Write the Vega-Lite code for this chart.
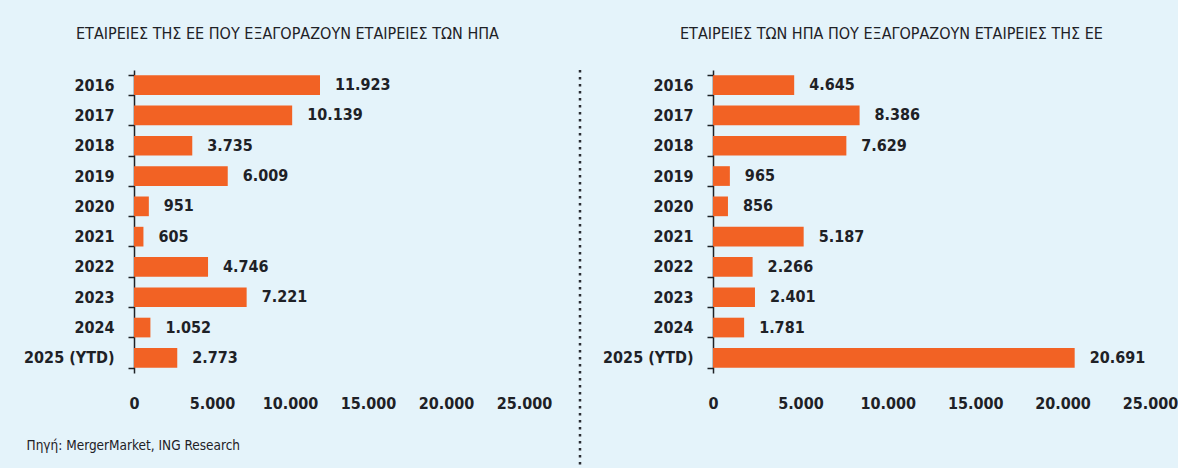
{
  "$schema": "https://vega.github.io/schema/vega-lite/v6.json",
  "background": "#e4f3fa",
  "padding": {"left": 23, "top": 0, "right": 0, "bottom": 0},
  "columns": 3,
  "align": "none",
  "spacing": 20,
  "datasets": {
    "eu_buys_us": [
      {"year": "2016", "value": 11923},
      {"year": "2017", "value": 10139},
      {"year": "2018", "value": 3735},
      {"year": "2019", "value": 6009},
      {"year": "2020", "value": 951},
      {"year": "2021", "value": 605},
      {"year": "2022", "value": 4746},
      {"year": "2023", "value": 7221},
      {"year": "2024", "value": 1052},
      {"year": "2025 (YTD)", "value": 2773}
    ],
    "us_buys_eu": [
      {"year": "2016", "value": 4645},
      {"year": "2017", "value": 8386},
      {"year": "2018", "value": 7629},
      {"year": "2019", "value": 965},
      {"year": "2020", "value": 856},
      {"year": "2021", "value": 5187},
      {"year": "2022", "value": 2266},
      {"year": "2023", "value": 2401},
      {"year": "2024", "value": 1781},
      {"year": "2025 (YTD)", "value": 20691}
    ],
    "separator": [{"pos": 1}]
  },
  "concat": [
    {
      "width": 390,
      "height": 303,
      "title": {
        "text": ["", "ΕΤΑΙΡΕΙΕΣ ΤΗΣ ΕΕ ΠΟΥ ΕΞΑΓΟΡΑΖΟΥΝ ΕΤΑΙΡΕΙΕΣ ΤΩΝ ΗΠΑ"],
        "anchor": "start",
        "frame": "group",
        "dx": -58,
        "offset": 20.5,
        "lineHeight": 25,
        "fontSize": 16,
        "fontWeight": "normal",
        "color": "#1e2126"
      },
      "data": {"name": "eu_buys_us"},
      "encoding": {
        "y": {
          "field": "year",
          "type": "nominal",
          "sort": null,
          "scale": {"paddingInner": 0.35, "paddingOuter": 0.175},
          "axis": {"title": null, "tickBand": "extent"}
        },
        "x": {
          "field": "value",
          "type": "quantitative",
          "scale": {"domain": [0, 25000], "nice": false},
          "axis": {
            "values": [0, 5000, 10000, 15000, 20000, 25000],
            "format": ",d",
            "grid": false,
            "domain": false,
            "ticks": false,
            "labelFlush": false,
            "labelPadding": 22,
            "title": "Πηγή: MergerMarket, ING Research",
            "titleX": -108,
            "titleY": 76,
            "titleAlign": "left",
            "titleBaseline": "alphabetic",
            "titleFontSize": 13.5,
            "titleFontWeight": "normal",
            "titleColor": "#1e2126"
          }
        }
      },
      "layer": [
        {"mark": {"type": "bar", "color": "#f26224"}},
        {
          "mark": {"type": "text", "align": "left", "baseline": "middle", "dx": 15, "fontSize": 16, "fontWeight": "bold", "color": "#1e2126"},
          "encoding": {"text": {"field": "value", "type": "quantitative", "format": ",d"}}
        }
      ]
    },
    {
      "width": 8,
      "height": 468,
      "data": {"name": "separator"},
      "mark": {"type": "rule", "strokeDash": [2.5, 4.5], "strokeWidth": 2.5, "color": "#2a2d33"},
      "encoding": {
        "x": {"field": "pos", "type": "quantitative", "axis": null, "scale": {"domain": [0, 1]}}
      }
    },
    {
      "width": 437,
      "height": 303,
      "title": {
        "text": ["", "ΕΤΑΙΡΕΙΕΣ ΤΩΝ ΗΠΑ ΠΟΥ ΕΞΑΓΟΡΑΖΟΥΝ ΕΤΑΙΡΕΙΕΣ ΤΗΣ ΕΕ"],
        "anchor": "start",
        "frame": "group",
        "dx": -33,
        "offset": 20.5,
        "lineHeight": 25,
        "fontSize": 16,
        "fontWeight": "normal",
        "color": "#1e2126"
      },
      "data": {"name": "us_buys_eu"},
      "encoding": {
        "y": {
          "field": "year",
          "type": "nominal",
          "sort": null,
          "scale": {"paddingInner": 0.35, "paddingOuter": 0.175},
          "axis": {"title": null, "tickBand": "extent"}
        },
        "x": {
          "field": "value",
          "type": "quantitative",
          "scale": {"domain": [0, 25000], "nice": false},
          "axis": {
            "values": [0, 5000, 10000, 15000, 20000, 25000],
            "format": ",d",
            "grid": false,
            "domain": false,
            "ticks": false,
            "labelFlush": false,
            "labelPadding": 22,
            "title": null
          }
        }
      },
      "layer": [
        {"mark": {"type": "bar", "color": "#f26224"}},
        {
          "mark": {"type": "text", "align": "left", "baseline": "middle", "dx": 15, "fontSize": 16, "fontWeight": "bold", "color": "#1e2126"},
          "encoding": {"text": {"field": "value", "type": "quantitative", "format": ",d"}}
        }
      ]
    }
  ],
  "config": {
    "font": "DejaVu Sans Condensed",
    "locale": {"number": {"decimal": ",", "thousands": ".", "grouping": [3], "currency": ["", " €"]}},
    "view": {"stroke": null},
    "axis": {
      "labelFont": "DejaVu Sans Condensed",
      "titleFont": "DejaVu Sans Condensed",
      "labelFontSize": 16,
      "labelFontWeight": "bold",
      "labelColor": "#1e2126",
      "domainColor": "#1e2126",
      "domainWidth": 1.5,
      "tickColor": "#1e2126",
      "tickWidth": 1.5,
      "tickSize": 6,
      "labelPadding": 14
    },
    "title": {"font": "DejaVu Sans Condensed"},
    "text": {"font": "DejaVu Sans Condensed"}
  }
}
